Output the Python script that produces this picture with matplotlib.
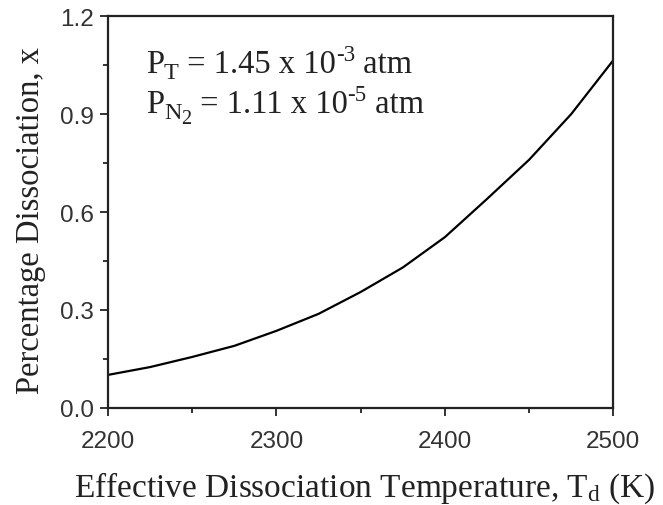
import numpy as np
import matplotlib
matplotlib.use("Agg")
import matplotlib.pyplot as plt
from matplotlib.ticker import MultipleLocator, FormatStrFormatter
from matplotlib.transforms import offset_copy

# values
temp = [2200, 2225, 2250, 2275, 2300, 2325, 2350, 2375, 2400, 2425, 2450, 2475, 2500]
diss = [0.101, 0.125, 0.156, 0.190, 0.236, 0.288, 0.355, 0.430, 0.523, 0.640, 0.760, 0.900, 1.065]

xticks = [2200, 2300, 2400, 2500]
yticks = [0.0, 0.3, 0.6, 0.9, 1.2]

plt.rcParams['mathtext.fontset'] = 'custom'
plt.rcParams['mathtext.rm'] = 'Liberation Serif'
plt.rcParams['mathtext.it'] = 'Liberation Serif:italic'

fig = plt.figure(figsize=(6.63, 5.06), dpi=100)
ax = fig.add_axes([0.163, 0.192, 0.762, 0.774])

ax.plot(temp, diss, color='black', lw=1.6)

ax.set_xlim(2200, 2500)
ax.set_ylim(0, 1.2)
ax.set_xticks(xticks)
ax.set_yticks(yticks)
ax.xaxis.set_minor_locator(MultipleLocator(50))
ax.yaxis.set_minor_locator(MultipleLocator(0.15))
ax.yaxis.set_major_formatter(FormatStrFormatter('%.1f'))
ax.tick_params(which='both', direction='out', top=False, right=False, width=1.3, color='#222222')
ax.tick_params(which='major', length=6, labelsize=17.5)
ax.tick_params(axis='x', which='major', pad=10)
ax.tick_params(axis='y', which='major', pad=4)
ax.tick_params(which='minor', length=3.5)
for lab in ax.get_xticklabels() + ax.get_yticklabels():
    lab.set_family('Liberation Sans')
    lab.set_color('#333333')
for s in ax.spines.values():
    s.set_linewidth(1.6)
    s.set_color('#222222')

ax.set_xlabel('Effective Dissociation Temperature, T$_\\mathrm{d}$ (K)',
              family='Liberation Serif', fontsize=24, color='#222222')
ax.set_ylabel('Percentage Dissociation, x', family='Liberation Serif', fontsize=23.5,
              color='#222222')
ax.xaxis.set_label_coords(0.507, -0.158)
ax.yaxis.set_label_coords(-0.122, 0.482)

# annotation built from pieces so the sub/superscripts can be larger than mathtext's
renderer = fig.canvas.get_renderer()


def chain(x, y, pieces):
    trans = ax.transAxes
    dx = 0.0
    for txt, size, dy in pieces:
        t = ax.text(x, y, txt, transform=offset_copy(trans, fig=fig, x=dx, y=dy, units='points'),
                    family='Liberation Serif', fontsize=size, color='#222222', va='baseline')
        bb = t.get_window_extent(renderer)
        dx += bb.width * 72.0 / fig.dpi


line1 = [('P', 23.5, 0), ('T', 17.5, -4), (' = 1.45 x 10', 23.5, 0), ('-3', 16.5, 9), (' atm', 23.5, 0)]
line2 = [('P', 23.5, 0), ('N', 17.5, -4), ('2', 14.5, -8), (' = 1.11 x 10', 23.5, 0), ('-5', 16.5, 9),
         (' atm', 23.5, 0)]
chain(0.075, 0.857, line1)
chain(0.075, 0.755, line2)

fig.savefig('out.png', dpi=100)
